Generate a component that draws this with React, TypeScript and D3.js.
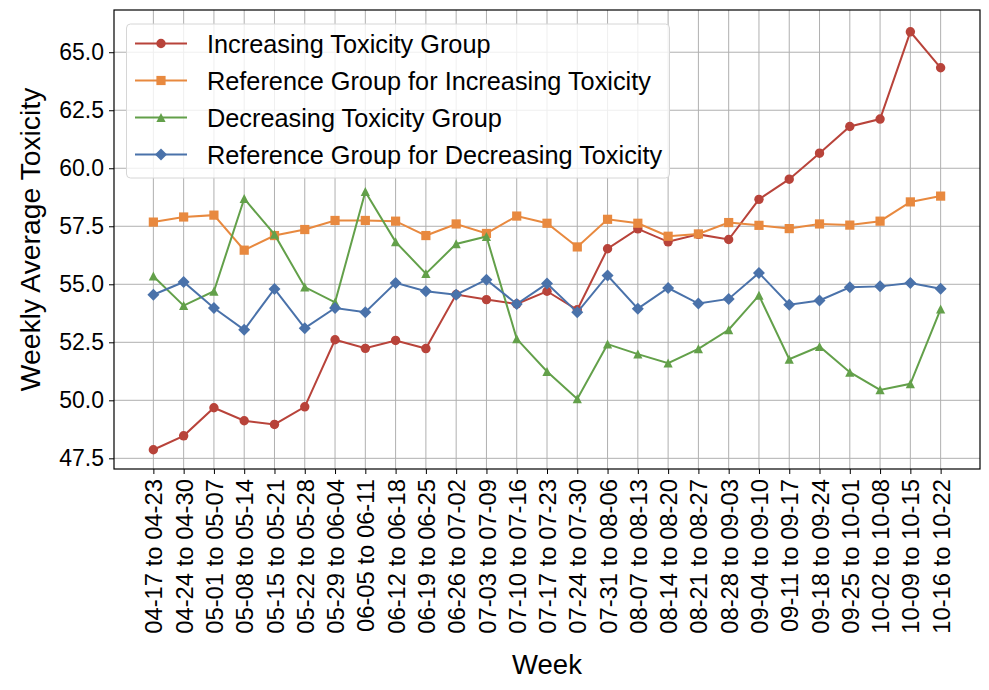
import { useEffect, useRef } from 'react';
import * as d3 from 'd3';

const weeks = [
  '04-17 to 04-23', '04-24 to 04-30', '05-01 to 05-07', '05-08 to 05-14', '05-15 to 05-21',
  '05-22 to 05-28', '05-29 to 06-04', '06-05 to 06-11', '06-12 to 06-18', '06-19 to 06-25',
  '06-26 to 07-02', '07-03 to 07-09', '07-10 to 07-16', '07-17 to 07-23', '07-24 to 07-30',
  '07-31 to 08-06', '08-07 to 08-13', '08-14 to 08-20', '08-21 to 08-27', '08-28 to 09-03',
  '09-04 to 09-10', '09-11 to 09-17', '09-18 to 09-24', '09-25 to 10-01', '10-02 to 10-08',
  '10-09 to 10-15', '10-16 to 10-22',
];

const increasing = [
  47.87, 48.47, 49.68, 49.12, 48.96, 49.72, 52.61, 52.24, 52.58, 52.23,
  54.56, 54.34, 54.15, 54.7, 53.9, 56.53, 57.39, 56.83, 57.15, 56.93,
  58.66, 59.53, 60.65, 61.8, 62.12, 65.88, 64.33,
];

const refIncreasing = [
  57.68, 57.9, 57.98, 56.47, 57.1, 57.36, 57.75, 57.75, 57.72, 57.1,
  57.6, 57.19, 57.94, 57.63, 56.61, 57.8, 57.63, 57.07, 57.17, 57.66,
  57.54, 57.4, 57.6, 57.55, 57.72, 58.55, 58.8,
];

const decreasing = [
  55.35, 54.08, 54.7, 58.69, 57.15, 54.88, 54.22, 58.99, 56.83, 55.46,
  56.74, 57.06, 52.65, 51.24, 50.06, 52.42, 51.99, 51.6, 52.22, 53.04,
  54.52, 51.77, 52.32, 51.21, 50.45, 50.71, 53.93,
];

const refDecreasing = [
  54.55, 55.1, 53.98, 53.04, 54.8, 53.11, 53.98, 53.8, 55.06, 54.7,
  54.55, 55.2, 54.15, 55.03, 53.79, 55.38, 53.95, 54.84, 54.17, 54.37,
  55.49, 54.12, 54.3, 54.87, 54.91, 55.06, 54.81,
];

const yTicks = [47.5, 50.0, 52.5, 55.0, 57.5, 60.0, 62.5, 65.0];

const seriesNames = [
  'Increasing Toxicity Group',
  'Reference Group for Increasing Toxicity',
  'Decreasing Toxicity Group',
  'Reference Group for Decreasing Toxicity',
];
const seriesColors = ['#b8433a', '#e8893f', '#63a04a', '#4a72aa'];
const seriesMarkers = ['circle', 'square', 'triangle', 'diamond'];

const FONT = '"Liberation Sans", Arial, Helvetica, sans-serif';

function markerPath(kind: string, cx: number, cy: number) {
  const p = d3.path();
  if (kind === 'circle') {
    p.arc(cx, cy, 4.7, 0, Math.PI * 2);
  } else if (kind === 'square') {
    p.rect(cx - 4.6, cy - 4.6, 9.2, 9.2);
  } else if (kind === 'triangle') {
    p.moveTo(cx, cy - 4.6);
    p.lineTo(cx + 4.6, cy + 4.4);
    p.lineTo(cx - 4.6, cy + 4.4);
    p.closePath();
  } else {
    p.moveTo(cx, cy - 6);
    p.lineTo(cx + 6, cy);
    p.lineTo(cx, cy + 6);
    p.lineTo(cx - 6, cy);
    p.closePath();
  }
  return p.toString();
}

export default function App() {
  const ref = useRef<SVGSVGElement>(null);

  useEffect(() => {
    if (!ref.current) return;
    const svg = d3.select(ref.current);
    svg.selectAll('*').remove();

    const width = 989;
    const height = 690;
    const margin = { top: 10, right: 9, bottom: 221, left: 114 };
    const innerBottom = height - margin.bottom;
    const innerRight = width - margin.right;

    const n = weeks.length;
    const x = d3.scaleLinear()
      .domain([-0.05 * (n - 1), (n - 1) * 1.05])
      .range([margin.left, innerRight]);
    const y = d3.scaleLinear()
      .domain([47.04, 66.82])
      .range([innerBottom, margin.top]);

    // grid
    const grid = svg.append('g');
    grid.selectAll('line.v')
      .data(weeks)
      .enter()
      .append('line')
      .attr('x1', (_, i) => x(i))
      .attr('x2', (_, i) => x(i))
      .attr('y1', margin.top)
      .attr('y2', innerBottom)
      .attr('stroke', '#b0b0b0')
      .attr('stroke-width', 1);
    grid.selectAll('line.h')
      .data(yTicks)
      .enter()
      .append('line')
      .attr('x1', margin.left)
      .attr('x2', innerRight)
      .attr('y1', d => y(d))
      .attr('y2', d => y(d))
      .attr('stroke', '#b0b0b0')
      .attr('stroke-width', 1);

    // series
    const all = [increasing, refIncreasing, decreasing, refDecreasing];
    const line = d3.line<number>()
      .x((_, i) => x(i))
      .y(d => y(d));

    all.forEach((vals, s) => {
      svg.append('path')
        .attr('d', line(vals) || '')
        .attr('fill', 'none')
        .attr('stroke', seriesColors[s])
        .attr('stroke-width', 2);
      svg.append('g')
        .selectAll('path')
        .data(vals)
        .enter()
        .append('path')
        .attr('d', (d, i) => markerPath(seriesMarkers[s], x(i), y(d)))
        .attr('fill', seriesColors[s]);
    });

    // axes frame
    svg.append('rect')
      .attr('x', margin.left)
      .attr('y', margin.top)
      .attr('width', innerRight - margin.left)
      .attr('height', innerBottom - margin.top)
      .attr('fill', 'none')
      .attr('stroke', '#000')
      .attr('stroke-width', 1.2);

    const xAxis = svg.append('g')
      .attr('transform', `translate(0,${innerBottom})`)
      .call(d3.axisBottom(x)
        .tickValues(d3.range(n))
        .tickFormat(i => weeks[i as number])
        .tickSizeInner(5)
        .tickSizeOuter(0));
    xAxis.select('.domain').remove();
    xAxis.selectAll('text')
      .attr('font-family', FONT)
      .attr('font-size', 23.8)
      .attr('fill', '#000')
      .attr('transform', 'rotate(-90)')
      .attr('text-anchor', 'end')
      .attr('x', -10)
      .attr('y', 0)
      .attr('dy', '0.36em');

    const yAxis = svg.append('g')
      .attr('transform', `translate(${margin.left},0)`)
      .call(d3.axisLeft(y)
        .tickValues(yTicks)
        .tickFormat(d3.format('.1f'))
        .tickSizeInner(5)
        .tickSizeOuter(0)
        .tickPadding(5));
    yAxis.select('.domain').remove();
    yAxis.selectAll('text')
      .attr('font-family', FONT)
      .attr('font-size', 23)
      .attr('fill', '#000');

    // axis labels
    svg.append('text')
      .attr('x', (margin.left + innerRight) / 2)
      .attr('y', 674)
      .attr('text-anchor', 'middle')
      .attr('font-family', FONT)
      .attr('font-size', 27.5)
      .text('Week');

    svg.append('text')
      .attr('transform', `translate(40,${(margin.top + innerBottom) / 2}) rotate(-90)`)
      .attr('text-anchor', 'middle')
      .attr('font-family', FONT)
      .attr('font-size', 28.3)
      .text('Weekly Average Toxicity');

    // legend
    const legend = svg.append('g');
    legend.append('rect')
      .attr('x', 126.5)
      .attr('y', 24)
      .attr('width', 543)
      .attr('height', 154)
      .attr('rx', 4)
      .attr('fill', 'rgba(255,255,255,0.8)')
      .attr('stroke', '#d6d6d6')
      .attr('stroke-width', 1);

    const rowY = [43.5, 80.5, 117.5, 154.5];
    seriesNames.forEach((name, s) => {
      legend.append('line')
        .attr('x1', 135)
        .attr('x2', 187)
        .attr('y1', rowY[s])
        .attr('y2', rowY[s])
        .attr('stroke', seriesColors[s])
        .attr('stroke-width', 2);
      legend.append('path')
        .attr('d', markerPath(seriesMarkers[s], 161, rowY[s]))
        .attr('fill', seriesColors[s]);
      legend.append('text')
        .attr('x', 207)
        .attr('y', rowY[s])
        .attr('dy', '0.36em')
        .attr('font-family', FONT)
        .attr('font-size', 25.3)
        .attr('fill', '#000')
        .text(name);
    });
  }, []);

  return (
    <div style={{ position: 'absolute', left: 0, top: 0, background: '#fff' }}>
      <svg ref={ref} width={989} height={690} style={{ display: 'block' }}></svg>
    </div>
  );
}
